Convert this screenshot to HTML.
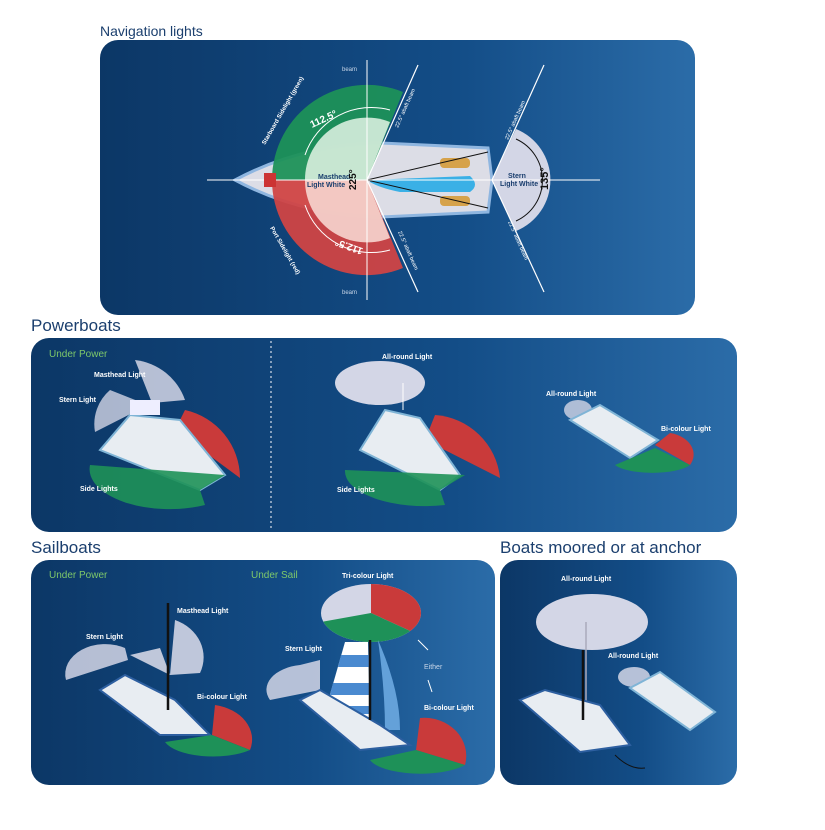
<!DOCTYPE html>
<html><head><meta charset="utf-8"><style>
body{margin:0;background:#fff;width:825px;height:825px;overflow:hidden;font-family:"Liberation Sans",sans-serif}
</style></head><body>
<svg width="825" height="825" viewBox="0 0 825 825" xmlns="http://www.w3.org/2000/svg" font-family="Liberation Sans, sans-serif">
<defs>
<linearGradient id="g" x1="0" x2="1" y1="0" y2="0"><stop offset="0" stop-color="#0c3766"/><stop offset="0.6" stop-color="#134d87"/><stop offset="1" stop-color="#2b6ca8"/></linearGradient>
<clipPath id="tc"><ellipse cx="371" cy="613" rx="50" ry="29"/></clipPath>
</defs>
<text x="100" y="36" font-size="14" fill="#1b3f6e">Navigation lights</text>
<text x="31" y="331" font-size="17" fill="#1b3f6e">Powerboats</text>
<text x="31" y="553" font-size="17" fill="#1b3f6e">Sailboats</text>
<text x="500" y="553" font-size="17" fill="#1b3f6e">Boats moored or at anchor</text>
<rect x="100" y="40" width="595" height="275" rx="18" fill="url(#g)"/>
<rect x="31" y="338" width="706" height="194" rx="18" fill="url(#g)"/>
<rect x="31" y="560" width="464" height="225" rx="18" fill="url(#g)"/>
<rect x="500" y="560" width="237" height="225" rx="18" fill="url(#g)"/>
<line x1="271" y1="341" x2="271" y2="530" stroke="#fff" stroke-dasharray="2,3" stroke-width="1"/>

<!-- NAV PANEL -->
<path d="M235,180 Q300,145 380,143 L488,148 L492,180 L488,212 L380,217 Q300,215 235,180Z" fill="#dcdde6" stroke="#8fb6e0" stroke-width="3"/>
<path d="M367,180 L272,180 A95,95 0 0 1 403,92 Z" fill="#1e9158" opacity="0.95"/>
<path d="M367,180 L272,180 A95,95 0 0 0 403,268 Z" fill="#d04545" opacity="0.95"/>
<path d="M367,180 L305,180 A62,62 0 0 1 390,122 Z" fill="#d8eede" opacity="0.9"/>
<path d="M367,180 L305,180 A62,62 0 0 0 390,238 Z" fill="#f6d6cf" opacity="0.9"/>
<path d="M370,180 L470,176 Q480,185 470,192 L400,192 Q380,188 370,182Z" fill="#3ab0e6"/>
<rect x="440" y="158" width="30" height="10" rx="4" fill="#d6a24a"/>
<rect x="440" y="196" width="30" height="10" rx="4" fill="#d6a24a"/>
<line x1="367" y1="180" x2="488" y2="152" stroke="#111" stroke-width="1"/>
<line x1="367" y1="180" x2="488" y2="208" stroke="#111" stroke-width="1"/>
<path d="M492,180 L516,129 A55,55 0 0 1 516,231 Z" fill="#d3d6e6"/>
<line x1="207" y1="180" x2="600" y2="180" stroke="#fff" stroke-width="1"/>
<line x1="367" y1="60" x2="367" y2="300" stroke="#fff" stroke-width="1"/>
<line x1="367" y1="180" x2="418" y2="65" stroke="#fff" stroke-width="1.2"/>
<line x1="367" y1="180" x2="418" y2="292" stroke="#fff" stroke-width="1.2"/>
<line x1="492" y1="180" x2="544" y2="65" stroke="#fff" stroke-width="1.2"/>
<line x1="492" y1="180" x2="544" y2="292" stroke="#fff" stroke-width="1.2"/>
<rect x="264" y="173" width="12" height="14" fill="#c33"/>
<text x="342" y="71" font-size="6" fill="#c9d6e8">beam</text>
<text x="342" y="294" font-size="6" fill="#c9d6e8">beam</text>
<text x="318" y="179" font-size="7" font-weight="bold" fill="#1b3f6e">Masthead</text>
<text x="307" y="187" font-size="7" font-weight="bold" fill="#1b3f6e">Light White</text>
<text x="356" y="190" font-size="10" font-weight="bold" fill="#111" transform="rotate(-90 356 190)">225°</text>
<text x="508" y="178" font-size="7" font-weight="bold" fill="#1b3f6e">Stern</text>
<text x="500" y="186" font-size="7" font-weight="bold" fill="#1b3f6e">Light White</text>
<text x="548" y="190" font-size="11" font-weight="bold" fill="#111" transform="rotate(-90 548 190)">135°</text>
<text x="312" y="128" font-size="10" font-weight="bold" fill="#fff" transform="rotate(-25 312 128)">112.5°</text>
<text x="315" y="240" font-size="10" font-weight="bold" fill="#fff" transform="rotate(200 340 240)">112.5°</text>
<text x="265" y="145" font-size="6" font-weight="bold" fill="#fff" transform="rotate(-60 265 145)">Starboard Sidelight (green)</text>
<text x="270" y="228" font-size="6" font-weight="bold" fill="#fff" transform="rotate(60 270 228)">Port Sidelight (red)</text>
<text x="398" y="128" font-size="5.5" fill="#fff" transform="rotate(-66 398 128)">22.5° abaft beam</text>
<text x="398" y="232" font-size="5.5" fill="#fff" transform="rotate(66 398 232)">22.5° abaft beam</text>
<text x="508" y="140" font-size="5.5" fill="#fff" transform="rotate(-66 508 140)">22.5° abaft beam</text>
<text x="508" y="222" font-size="5.5" fill="#fff" transform="rotate(66 508 222)">22.5° abaft beam</text>
<path d="M305,155 A70,70 0 0 1 390,110" stroke="#fff" fill="none" stroke-width="1"/>
<path d="M305,205 A70,70 0 0 0 390,250" stroke="#fff" fill="none" stroke-width="1"/>
<path d="M516,139 A45,45 0 0 1 516,221" stroke="#111" fill="none" stroke-width="1"/>

<!-- POWERBOATS -->
<text x="49" y="357" font-size="10" fill="#7ec86a">Under Power</text>
<path d="M152,403 L135,360 A60,60 0 0 1 185,400 Z" fill="#d3d6e6" opacity="0.85"/>
<path d="M148,405 L110,390 A45,45 0 0 0 95,432 Z" fill="#d3d6e6" opacity="0.8"/>
<path d="M175,430 L185,410 A70,70 0 0 1 240,478 Z" fill="#c93a3a"/>
<path d="M100,450 L130,415 L180,420 L225,475 L200,490 Z" fill="#e8edf2" stroke="#7fb4d6" stroke-width="2"/>
<path d="M200,490 L225,475 L90,465 A80,40 0 0 0 205,505 Z" fill="#1e9158" opacity="0.9"/>
<rect x="130" y="400" width="30" height="15" fill="#eef" />
<text x="94" y="377" font-size="7" font-weight="bold" fill="#fff">Masthead Light</text>
<text x="59" y="402" font-size="7" font-weight="bold" fill="#fff">Stern Light</text>
<text x="80" y="491" font-size="7" font-weight="bold" fill="#fff">Side Lights</text>

<ellipse cx="380" cy="383" rx="45" ry="22" fill="#d3d6e6"/>
<line x1="403" y1="383" x2="403" y2="410" stroke="#fff" stroke-width="1"/>
<text x="382" y="359" font-size="7" font-weight="bold" fill="#fff">All-round Light</text>
<path d="M425,440 L435,415 A70,70 0 0 1 500,478 Z" fill="#c93a3a"/>
<path d="M360,450 L385,410 L420,418 L460,475 L440,490 Z" fill="#e8edf2" stroke="#7fb4d6" stroke-width="2"/>
<path d="M440,490 L465,475 L345,470 A80,35 0 0 0 445,505 Z" fill="#1e9158" opacity="0.9"/>
<text x="337" y="492" font-size="7" font-weight="bold" fill="#fff">Side Lights</text>

<ellipse cx="578" cy="410" rx="14" ry="10" fill="#d3d6e6" opacity="0.8"/>
<path d="M570,420 L600,405 L658,440 L630,458 Z" fill="#e8edf2" stroke="#7fb4d6" stroke-width="2"/>
<path d="M655,445 L670,433 A30,22 0 0 1 690,465 Z" fill="#c93a3a"/>
<path d="M655,448 L690,465 A40,12 0 0 1 615,465 Z" fill="#1e9158"/>
<text x="546" y="396" font-size="7" font-weight="bold" fill="#fff">All-round Light</text>
<text x="661" y="431" font-size="7" font-weight="bold" fill="#fff">Bi-colour Light</text>

<!-- SAILBOATS -->
<text x="49" y="578" font-size="10" fill="#7ec86a">Under Power</text>
<text x="251" y="578" font-size="10" fill="#7ec86a">Under Sail</text>
<path d="M170,675 L175,620 A45,40 0 0 1 200,673 Z" fill="#d3d6e6" opacity="0.9"/>
<path d="M170,675 L130,655 L160,648 Z" fill="#d3d6e6" opacity="0.9"/>
<path d="M128,660 L125,648 A40,30 0 0 0 66,680 Z" fill="#d3d6e6" opacity="0.85"/>
<path d="M100,690 L125,675 L175,700 L210,735 L160,735 Z" fill="#e8edf2" stroke="#2d5fa0" stroke-width="2"/>
<line x1="168" y1="603" x2="168" y2="710" stroke="#111" stroke-width="2.5"/>
<path d="M212,735 L215,705 A45,35 0 0 1 250,750 Z" fill="#c93a3a"/>
<path d="M212,735 L250,750 A50,20 0 0 1 165,742 Z" fill="#1e9158"/>
<text x="177" y="613" font-size="7" font-weight="bold" fill="#fff">Masthead Light</text>
<text x="86" y="639" font-size="7" font-weight="bold" fill="#fff">Stern Light</text>
<text x="197" y="699" font-size="7" font-weight="bold" fill="#fff">Bi-colour Light</text>

<g clip-path="url(#tc)">
<rect x="315" y="580" width="110" height="70" fill="#d3d6e6"/>
<polygon points="371,613 371,570 430,570 430,640" fill="#c93a3a"/>
<polygon points="371,613 430,640 430,660 310,660 310,624" fill="#1e9158"/>
</g>
<path d="M345,642 L368,642 L370,720 L325,712 Z" fill="#fff"/>
<path d="M341,655 L369,655 L369,667 L338,667Z M333,683 L369,683 L369,695 L330,695Z M328,706 L370,706 L370,714 L327,714Z" fill="#4a8ad0"/>
<path d="M378,640 Q400,690 400,730 L385,730 Q385,690 378,640Z" fill="#6ca8e0" opacity="0.9"/>
<path d="M320,660 L300,665 A40,25 0 0 0 270,700 L320,690Z" fill="#d3d6e6" opacity="0.85"/>
<path d="M300,700 L320,690 L380,725 L410,745 L360,750 Z" fill="#e8edf2" stroke="#2d5fa0" stroke-width="2"/>
<line x1="370" y1="640" x2="370" y2="720" stroke="#111" stroke-width="2.5"/>
<path d="M416,750 L420,718 A42,38 0 0 1 465,765 Z" fill="#c93a3a"/>
<path d="M416,750 L465,765 A52,18 0 0 1 370,760 Z" fill="#1e9158"/>
<text x="342" y="578" font-size="7" font-weight="bold" fill="#fff">Tri-colour Light</text>
<text x="285" y="651" font-size="7" font-weight="bold" fill="#fff">Stern Light</text>
<text x="424" y="669" font-size="7" fill="#c9d6e8">Either</text>
<path d="M428,650 L418,640 M428,680 L432,692" stroke="#fff" stroke-width="1"/>
<text x="424" y="710" font-size="7" font-weight="bold" fill="#fff">Bi-colour Light</text>

<!-- MOORED -->
<ellipse cx="592" cy="622" rx="56" ry="28" fill="#d3d6e6"/>
<line x1="586" y1="622" x2="586" y2="710" stroke="#aab" stroke-width="1.5"/>
<path d="M520,700 L545,690 L600,705 L630,745 L580,752 Z" fill="#e8edf2" stroke="#2d5fa0" stroke-width="2"/>
<line x1="583" y1="650" x2="583" y2="720" stroke="#111" stroke-width="2.5"/>
<path d="M615,755 Q630,770 645,768" stroke="#111" fill="none"/>
<ellipse cx="634" cy="677" rx="16" ry="10" fill="#d3d6e6" opacity="0.85"/>
<path d="M630,688 L660,672 L715,712 L690,730 Z" fill="#e8edf2" stroke="#7fb4d6" stroke-width="2"/>
<text x="561" y="581" font-size="7" font-weight="bold" fill="#fff">All-round Light</text>
<text x="608" y="658" font-size="7" font-weight="bold" fill="#fff">All-round Light</text>
</svg>
</body></html>
